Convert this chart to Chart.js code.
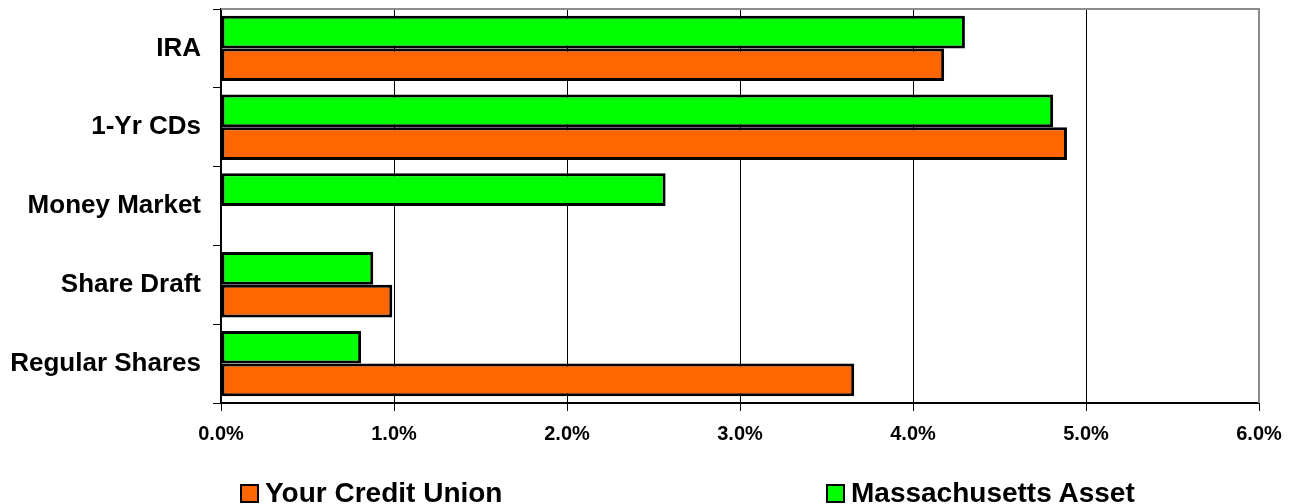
<!DOCTYPE html>
<html>
<head>
<meta charset="utf-8">
<script src="https://cdn.jsdelivr.net/npm/chart.js@4/dist/chart.umd.min.js"></script>
<style>
  html, body { margin: 0; padding: 0; background: #fff; }
  #wrap { position: relative; width: 1297px; height: 504px; overflow: hidden; }
  #chart { position: absolute; left: 0; top: 0; }
  .leg { position: absolute; top: 477px; display: flex; align-items: center;
         font-family: 'Liberation Sans', Arial, sans-serif; font-weight: bold; font-size: 28px; color: #000; white-space: nowrap; }
  .leg span.box { display: inline-block; width: 15px; height: 15px; border: 2px solid #000; margin-right: 6px; }
</style>
</head>
<body>
<div id="wrap">
  <canvas id="chart" width="1297" height="504"></canvas>
  <div class="leg" id="leg0" style="left:240px"></div>
  <div class="leg" id="leg1" style="left:826px"></div>
</div>
<script>
// rate comparison: credit union vs state peer group
const categories = ['IRA', '1-Yr CDs', 'Money Market', 'Share Draft', 'Regular Shares'];
const creditUnion = [4.18, 4.89, null, 0.99, 3.66];   // %
const massAsset   = [4.30, 4.81, 2.57, 0.88, 0.81];   // %
const xTickValues = [0, 1, 2, 3, 4, 5, 6];

const ORANGE = '#FF6600';
const GREEN = '#00FF00';
const FONT = "'Liberation Sans', Arial, sans-serif";

// gray frame on top / right of plot area
const frame = {
    id: 'frame',
    beforeDatasetsDraw(chart) {
        const a = chart.chartArea;
        const ctx = chart.ctx;
        ctx.save();
        ctx.strokeStyle = '#8c8c8c';
        ctx.lineWidth = 2;
        ctx.beginPath();
        ctx.moveTo(a.left, a.top);
        ctx.lineTo(a.right, a.top);
        ctx.lineTo(a.right, a.bottom);
        ctx.stroke();
        ctx.restore();
    }
};

const ctx = document.getElementById('chart').getContext('2d');
const chart = new Chart(ctx, {
    type: 'bar',
    data: {
        labels: categories,
        datasets: [
            { label: 'Massachusetts Asset', data: massAsset, backgroundColor: GREEN,
              borderColor: '#000', borderWidth: 3, borderSkipped: false },
            { label: 'Your Credit Union', data: creditUnion, backgroundColor: ORANGE,
              borderColor: '#000', borderWidth: 3, borderSkipped: false }
        ]
    },
    options: {
        indexAxis: 'y',
        responsive: false,
        animation: false,
        categoryPercentage: 0.83,
        barPercentage: 1.0,
        layout: { padding: { top: 9, right: 38, left: 0, bottom: 0 } },
        plugins: { legend: { display: false }, tooltip: { enabled: false } },
        scales: {
            x: {
                min: 0, max: 6,
                afterBuildTicks: (s) => { s.ticks = xTickValues.map(v => ({ value: v })); },
                afterFit: (s) => { s.height = 101; s.paddingLeft = 0; s.paddingRight = 0; },
                ticks: {
                    padding: 11,
                    color: '#000',
                    font: { family: FONT, size: 20, weight: 'bold' },
                    callback: (v) => Number(v).toFixed(1) + '%'
                },
                grid: { color: '#000', lineWidth: 1, tickLength: 8 },
                border: { color: '#000', width: 2 }
            },
            y: {
                afterFit: (s) => { s.width = 221; s.paddingTop = 0; s.paddingBottom = 0; },
                ticks: {
                    padding: 12,
                    color: '#000',
                    font: { family: FONT, size: 26, weight: 'bold' }
                },
                grid: { drawOnChartArea: false, color: '#000', tickLength: 8, offset: true },
                border: { color: '#000', width: 2 }
            }
        }
    },
    plugins: [frame]
});

// legend below the plot, credit union first
[chart.data.datasets[1], chart.data.datasets[0]].forEach((ds, i) => {
    const el = document.getElementById('leg' + i);
    el.innerHTML = '<span class="box" style="background:' + ds.backgroundColor + '"></span>' + ds.label;
});
</script>
</body>
</html>
